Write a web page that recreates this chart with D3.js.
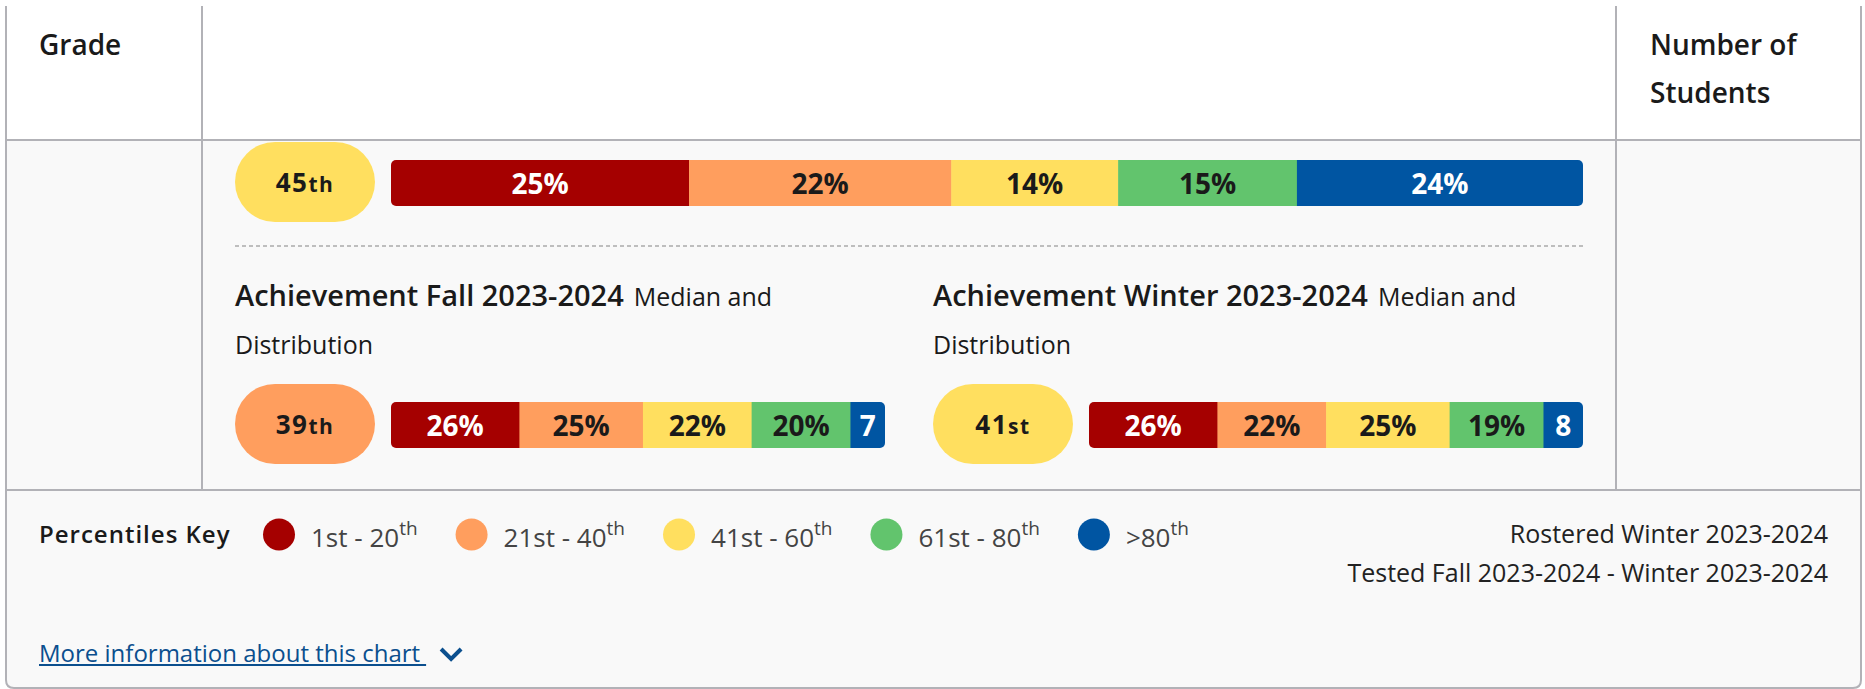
<!DOCTYPE html>
<html>
<head>
<meta charset="utf-8">
<script src="https://cdn.jsdelivr.net/npm/d3@7"></script>
<style>
  html, body { margin: 0; padding: 0; background: #fff; }
  svg { display: block; font-family: "Open Sans", "Noto Sans", sans-serif; }
</style>
</head>
<body>
<svg id="chart" width="1865" height="689"></svg>
<script>
// percentile bands (legend + colours)
const bandLabels = ["1st - 20", "21st - 40", "41st - 60", "61st - 80", ">80"]
const bandSup = "th"
const bandColors = ["#a50000", "#ff9e5e", "#ffdf5f", "#62c46d", "#0055a2"]
const bandCuts = [21, 41, 61, 81]

// projected row
const projectedMedian = 45
const projectedDist = [25, 22, 14, 15, 24]

// achievement fall / winter
const fallTitle = "Achievement Fall 2023-2024"
const fallMedian = 39
const fallDist = [26, 25, 22, 20, 7]

const winterTitle = "Achievement Winter 2023-2024"
const winterMedian = 41
const winterDist = [26, 22, 25, 19, 8]

const subTitle = ["Median and", "Distribution"]
const headers = ["Grade", ["Number of", "Students"]]
const footerNotes = ["Rostered Winter 2023-2024", "Tested Fall 2023-2024 - Winter 2023-2024"]
const keyTitle = "Percentiles Key"
const moreInfo = "More information about this chart"

// layout
const L = 6, R = 1861, T = 6, B = 688
const col1 = 202, col2 = 1616
const headBottom = 140, bodyBottom = 490
const lineColor = "#b2b2b7"
const ink = "#1a1a1a"

const svg = d3.select("#chart")
const bandColor = d3.scaleThreshold().domain(bandCuts).range(bandColors)

function suffix(n) {
  const r = n % 100
  if (r >= 11 && r <= 13) return "th"
  return { 1: "st", 2: "nd", 3: "rd" }[n % 10] || "th"
}

// ---- table frame ----
const rad = 8
svg.append("path")
  .attr("d", `M${L},${headBottom} L${L},${B - rad} Q${L},${B} ${L + rad},${B} L${R - rad},${B} Q${R},${B} ${R},${B - rad} L${R},${headBottom} Z`)
  .attr("fill", "#f9f9f9")

svg.append("path")
  .attr("d", `M${L},${T} L${L},${B - rad} Q${L},${B} ${L + rad},${B} L${R - rad},${B} Q${R},${B} ${R},${B - rad} L${R},${T}`)
  .attr("fill", "none")
  .attr("stroke", lineColor)
  .attr("stroke-width", 2)

svg.selectAll("line.hrow")
  .data([headBottom, bodyBottom])
  .enter()
  .append("line")
  .attr("class", "hrow")
  .attr("x1", L).attr("x2", R)
  .attr("y1", (d) => d).attr("y2", (d) => d)
  .attr("stroke", lineColor)
  .attr("stroke-width", 2)

svg.selectAll("line.vcol")
  .data([col1, col2])
  .enter()
  .append("line")
  .attr("class", "vcol")
  .attr("x1", (d) => d).attr("x2", (d) => d)
  .attr("y1", T).attr("y2", bodyBottom)
  .attr("stroke", lineColor)
  .attr("stroke-width", 2)

// ---- header ----
svg.append("text")
  .attr("x", 39).attr("y", 55)
  .attr("font-size", 28).attr("font-weight", 600).attr("fill", ink)
  .text(headers[0])

svg.append("text")
  .attr("font-size", 28).attr("font-weight", 600).attr("fill", ink)
  .selectAll("tspan")
  .data(headers[1])
  .enter()
  .append("tspan")
  .attr("x", 1650)
  .attr("y", (d, i) => 55 + i * 48)
  .text((d) => d)

// ---- pills and bars ----
function drawPill(parent, cx, cy, median) {
  const g = parent.append("g")
  g.append("rect")
    .attr("x", cx - 70).attr("y", cy - 40)
    .attr("width", 140).attr("height", 80)
    .attr("rx", 40).attr("ry", 40)
    .attr("fill", bandColor(median))
  const t = g.append("text")
    .attr("x", cx).attr("y", cy + 9.5)
    .attr("text-anchor", "middle")
    .attr("fill", ink)
    .attr("font-weight", 700)
    .attr("letter-spacing", 1.5)
  t.append("tspan").attr("font-size", 26).text(median)
  t.append("tspan").attr("font-size", 21).text(suffix(median))
}

let clipId = 0
function drawBar(parent, x0, x1, cy, dist) {
  const g = parent.append("g")
  const h = 46
  const x = d3.scaleLinear().domain([0, d3.sum(dist)]).range([x0, x1])
  const cum = d3.cumsum(dist)
  const segs = dist.map((v, i) => ({ v, i, start: cum[i] - v, end: cum[i] }))
  const id = "barclip" + clipId++

  g.append("clipPath").attr("id", id)
    .append("rect")
    .attr("x", x0).attr("y", cy - h / 2)
    .attr("width", x1 - x0).attr("height", h)
    .attr("rx", 5)

  g.append("g").attr("clip-path", `url(#${id})`)
    .selectAll("rect")
    .data(segs)
    .enter()
    .append("rect")
    .attr("x", (d) => x(d.start))
    .attr("y", cy - h / 2)
    .attr("width", (d) => x(d.end) - x(d.start) + (d.i < dist.length - 1 ? 0.5 : 0))
    .attr("height", h)
    .attr("fill", (d) => bandColors[d.i])

  g.selectAll("text.seg")
    .data(segs)
    .enter()
    .append("text")
    .attr("class", "seg")
    .attr("x", (d) => (x(d.start) + x(d.end)) / 2)
    .attr("y", cy + 11)
    .attr("text-anchor", "middle")
    .attr("font-size", 28)
    .attr("font-weight", 700)
    .attr("fill", (d) => (d.i === 0 || d.i === 4 ? "#fff" : ink))
    .text((d) => (d.v < 10 ? d.v : d.v + "%"))
}

function drawTitle(parent, x, y, title) {
  const t = parent.append("text").attr("x", x).attr("y", y).attr("fill", ink)
  t.append("tspan").attr("font-size", 29).attr("font-weight", 600).text(title)
  t.append("tspan").attr("font-size", 25).attr("font-weight", 400).attr("dx", 10).text(subTitle[0])
  parent.append("text").attr("x", x).attr("y", y + 48)
    .attr("font-size", 25).attr("fill", ink)
    .text(subTitle[1])
}

const body = svg.append("g")
const cL = 235, cR = 1583, half = 650

drawPill(body, cL + 70, 182, projectedMedian)
drawBar(body, cL + 156, cR, 183, projectedDist)

body.append("line")
  .attr("x1", cL).attr("x2", cR)
  .attr("y1", 246).attr("y2", 246)
  .attr("stroke", "#ababab")
  .attr("stroke-width", 1.5)
  .attr("stroke-dasharray", "4,3")

const sections = [
  { x: cL, title: fallTitle, median: fallMedian, dist: fallDist },
  { x: cR - half, title: winterTitle, median: winterMedian, dist: winterDist },
]
sections.forEach((s) => {
  drawTitle(body, s.x, 306, s.title)
  drawPill(body, s.x + 70, 424, s.median)
  drawBar(body, s.x + 156, s.x + half, 425, s.dist)
})

// ---- footer: key ----
const foot = svg.append("g")
foot.append("text")
  .attr("x", 39).attr("y", 543)
  .attr("font-size", 24).attr("font-weight", 600)
  .attr("letter-spacing", 1)
  .attr("fill", ink)
  .text(keyTitle)

let lx = 263
bandLabels.forEach((lab, i) => {
  foot.append("circle")
    .attr("cx", lx + 16).attr("cy", 534.5).attr("r", 16)
    .attr("fill", bandColors[i])
  const t = foot.append("text")
    .attr("x", lx + 48).attr("y", 547)
    .attr("font-size", 26).attr("fill", "#444")
  t.append("tspan").text(lab)
  t.append("tspan").attr("font-size", 19).attr("dy", -12).text(bandSup)
  lx = lx + 48 + t.node().getComputedTextLength() + 38
})

foot.selectAll("text.note")
  .data(footerNotes)
  .enter()
  .append("text")
  .attr("class", "note")
  .attr("x", 1828)
  .attr("y", (d, i) => 543 + i * 39)
  .attr("text-anchor", "end")
  .attr("font-size", 25)
  .attr("fill", "#222")
  .text((d) => d)

// ---- more info link ----
const link = foot.append("text")
  .attr("x", 39).attr("y", 662)
  .attr("font-size", 24)
  .attr("fill", "#0b4f8e")
  .text(moreInfo)
const linkEnd = 39 + link.node().getComputedTextLength() + 6
foot.append("line")
  .attr("x1", 39).attr("x2", linkEnd)
  .attr("y1", 665).attr("y2", 665)
  .attr("stroke", "#0b4f8e").attr("stroke-width", 2)
foot.append("path")
  .attr("d", `M${linkEnd + 15},${649} L${linkEnd + 25},${659} L${linkEnd + 35},${649}`)
  .attr("fill", "none")
  .attr("stroke", "#0b4f8e")
  .attr("stroke-width", 4)
</script>
</body>
</html>
